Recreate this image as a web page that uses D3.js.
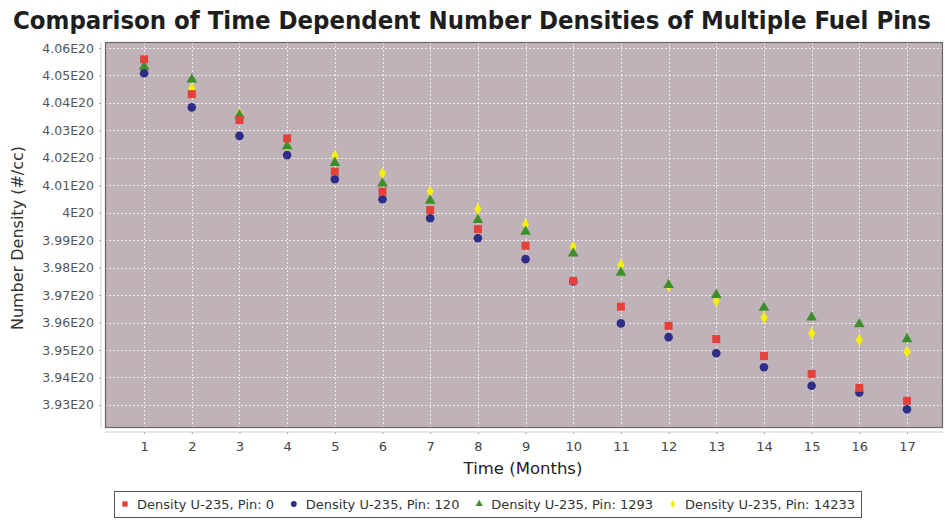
<!DOCTYPE html>
<html>
<head>
<meta charset="utf-8">
<script src="https://cdn.jsdelivr.net/npm/d3@7"></script>
<style>
  html, body { margin: 0; padding: 0; background: #fff; }
  svg { display: block; }
</style>
</head>
<body>
<svg id="chart" width="945" height="521"></svg>
<script>
// Months on the x axis
const months = [1, 2, 3, 4, 5, 6, 7, 8, 9, 10, 11, 12, 13, 14, 15, 16, 17];

// U-235 number density per pin, in units of 1E20 atoms/cc
const pin0     = [4.0559, 4.0432, 4.0338, 4.0271, 4.0150, 4.0077, 4.0010, 3.9940, 3.9880, 3.9752, 3.9658, 3.9588, 3.9540, 3.9478, 3.9413, 3.9362, 3.9315];
const pin120   = [4.0508, 4.0384, 4.0280, 4.0210, 4.0122, 4.0049, 3.9980, 3.9907, 3.9831, 3.9750, 3.9597, 3.9547, 3.9488, 3.9437, 3.9370, 3.9345, 3.9284];
const pin1293  = [4.0532, 4.0486, 4.0355, 4.0243, 4.0182, 4.0107, 4.0044, 3.9974, 3.9931, 3.9852, 3.9782, 3.9737, 3.9701, 3.9654, 3.9619, 3.9594, 3.9540];
const pin14233 = [4.0530, 4.0453, 4.0360, 4.0243, 4.0208, 4.0144, 4.0077, 4.0014, 3.9958, 3.9876, 3.9810, 3.9735, 3.9679, 3.9618, 3.9561, 3.9537, 3.9494];

const seriesNames = ["Density U-235, Pin: 0", "Density U-235, Pin: 120", "Density U-235, Pin: 1293", "Density U-235, Pin: 14233"];
const yTicks = [4.06, 4.05, 4.04, 4.03, 4.02, 4.01, 4.00, 3.99, 3.98, 3.97, 3.96, 3.95, 3.94, 3.93];
const xDomain = [0.18, 17.755];
const yDomain = [3.9216, 4.0622];

const titleText = "Comparison of Time Dependent Number Densities of Multiple Fuel Pins";
const xTitle = "Time (Months)";
const yTitle = "Number Density (#/cc)";

const series = [
  { name: seriesNames[0], values: pin0,     color: "#e5413a", shape: d3.symbolSquare,   size: 64 },
  { name: seriesNames[1], values: pin120,   color: "#2e2e86", shape: d3.symbolCircle,   size: 58 },
  { name: seriesNames[2], values: pin1293,  color: "#3f8e2c", shape: d3.symbolTriangle, size: 50 },
  { name: seriesNames[3], values: pin14233, color: "#f4ee12", shape: d3.symbolDiamond,  size: 44 }
];

const plot = { left: 105, top: 42, right: 943, bottom: 428 };
const svg = d3.select("#chart");
const tickFont = "Tahoma, 'DejaVu Sans', Verdana, sans-serif";

const x = d3.scaleLinear().domain(xDomain).range([plot.left, plot.right]);
const y = d3.scaleLinear().domain(yDomain).range([plot.bottom, plot.top]);

// Title
svg.append("text")
  .attr("x", 472).attr("y", 29)
  .attr("text-anchor", "middle")
  .attr("font-family", "'Liberation Sans Narrow', 'DejaVu Sans Condensed', sans-serif")
  .attr("font-weight", "bold")
  .attr("font-size", 25)
  .attr("fill", "#1e1e1e")
  .attr("textLength", 918)
  .attr("lengthAdjust", "spacingAndGlyphs")
  .text(titleText);

// Plot background
svg.append("rect")
  .attr("x", plot.left).attr("y", plot.top)
  .attr("width", plot.right - plot.left).attr("height", plot.bottom - plot.top)
  .attr("fill", "#bfb3b9");

// Grid lines
const grid = svg.append("g").attr("stroke", "#f6f2f4").attr("stroke-width", 1)
  .attr("stroke-dasharray", "2,2").attr("opacity", 0.9);
grid.selectAll("line.h").data(yTicks).join("line")
  .attr("x1", plot.left).attr("x2", plot.right)
  .attr("y1", d => Math.round(y(d)) + 0.5).attr("y2", d => Math.round(y(d)) + 0.5);
grid.selectAll("line.v").data(months).join("line")
  .attr("y1", plot.top).attr("y2", plot.bottom)
  .attr("x1", d => Math.round(x(d)) + 0.5).attr("x2", d => Math.round(x(d)) + 0.5);

// Plot border
svg.append("rect")
  .attr("x", plot.left + 0.5).attr("y", plot.top + 0.5)
  .attr("width", plot.right - plot.left - 1).attr("height", plot.bottom - plot.top - 1)
  .attr("fill", "none").attr("stroke", "#6c6468").attr("stroke-width", 1.2);

// Y axis
const yAxis = d3.axisLeft(y).tickValues(yTicks).tickSize(2).tickPadding(5)
  .tickFormat(d => (+d.toFixed(2)) + "E20");
const gy = svg.append("g").attr("transform", `translate(${plot.left - 4},0)`).call(yAxis);
gy.select(".domain").attr("stroke", "#cfcfcf").attr("d", `M0,${plot.top}V${plot.bottom}`);
gy.selectAll(".tick line").attr("stroke", "#aaa");
gy.selectAll(".tick text").attr("font-family", tickFont).attr("font-size", 12.5).attr("fill", "#555");

// X axis
const xAxis = d3.axisBottom(x).tickValues(months).tickSize(2).tickPadding(8).tickFormat(d3.format("d"));
const gx = svg.append("g").attr("transform", `translate(0,${plot.bottom + 4})`).call(xAxis);
gx.select(".domain").attr("stroke", "#cfcfcf").attr("d", `M${plot.left},0H${plot.right}`);
gx.selectAll(".tick line").attr("stroke", "#aaa");
gx.selectAll(".tick text").attr("font-family", tickFont).attr("font-size", 13).attr("fill", "#444");

// Axis titles
svg.append("text")
  .attr("x", 523).attr("y", 474)
  .attr("text-anchor", "middle")
  .attr("font-family", tickFont).attr("font-size", 16.5).attr("fill", "#222")
  .text(xTitle);
svg.append("text")
  .attr("transform", "translate(23,238) rotate(-90)")
  .attr("text-anchor", "middle")
  .attr("font-family", tickFont).attr("font-size", 16).attr("fill", "#333")
  .text(yTitle);

// Markers: the first series is drawn last so it sits on top
const marks = svg.append("g");
series.slice().reverse().forEach(s => {
  marks.append("g").selectAll("path").data(months.map((m, i) => [m, s.values[i]])).join("path")
    .attr("transform", d => `translate(${x(d[0])},${y(d[1])})`)
    .attr("d", d3.symbol().type(s.shape).size(s.size))
    .attr("fill", s.color);
});

// Legend: items spread evenly across the frame
const legend = svg.append("g");
const legendBox = { left: 114, right: 861, top: 491, height: 26 };
const texts = [];
series.forEach(s => {
  const g = legend.append("g");
  const sym = g.append("path")
    .attr("d", d3.symbol().type(s.shape).size(s.size * 0.45))
    .attr("fill", s.color);
  const t = g.append("text")
    .attr("y", legendBox.top + legendBox.height / 2 + 4.5)
    .attr("font-family", tickFont).attr("font-size", 13).attr("fill", "#333")
    .text(s.name);
  texts.push({ sym, t, w: t.node().getComputedTextLength() });
});
const pad = 6, symGap = 17;
const totalText = d3.sum(texts, d => d.w + symGap);
const gap = (legendBox.right - legendBox.left - 2 * pad - totalText) / (texts.length - 1);
let cursor = legendBox.left + pad;
texts.forEach(d => {
  d.sym.attr("transform", `translate(${cursor + 5},${legendBox.top + legendBox.height / 2})`);
  d.t.attr("x", cursor + symGap);
  cursor += symGap + d.w + gap;
});
legend.insert("rect", ":first-child")
  .attr("x", legendBox.left + 0.5).attr("y", legendBox.top + 0.5)
  .attr("width", legendBox.right - legendBox.left).attr("height", legendBox.height)
  .attr("fill", "#fff").attr("stroke", "#555").attr("stroke-width", 1);
</script>
</body>
</html>
